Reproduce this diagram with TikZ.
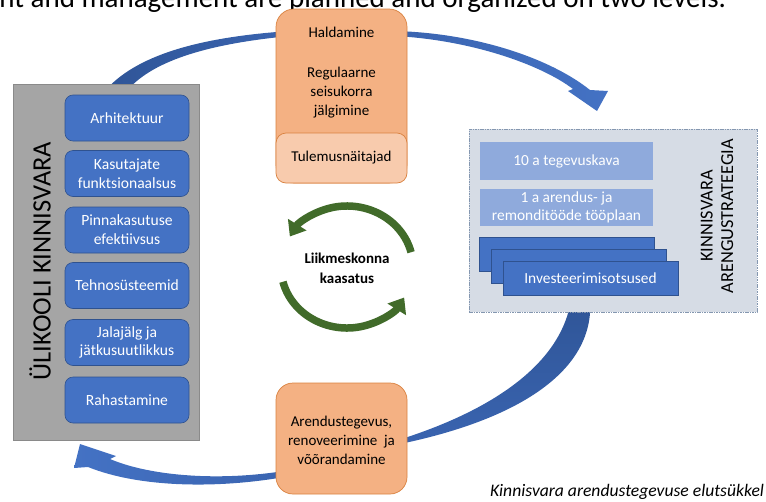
\documentclass[tikz,border=0pt]{standalone}
\usepackage{fontspec}
\setmainfont{Carlito}
\usetikzlibrary{arrows.meta}
\definecolor{bbox}{HTML}{4472C4}
\definecolor{bboxd}{HTML}{2F528F}
\definecolor{lbox}{HTML}{8FAADC}
\definecolor{gpanel}{HTML}{A5A5A5}
\definecolor{gpaneld}{HTML}{8A8A8A}
\definecolor{orfill}{HTML}{F4B183}
\definecolor{orlight}{HTML}{F8CBAD}
\definecolor{ordraw}{HTML}{D9813F}
\definecolor{rpanel}{HTML}{D6DCE5}
\definecolor{rpaneld}{HTML}{8497B0}
\definecolor{arrdark}{HTML}{2F5597}
\definecolor{arrmid}{HTML}{3A64B0}
\definecolor{arrlight}{HTML}{4472C4}
\definecolor{grn}{HTML}{416B2A}
\begin{document}
\begin{tikzpicture}[x=1pt,y=-1pt,
  every node/.style={inner sep=0pt, outer sep=0pt},
  txt/.style={align=center, font=\fontsize{15}{19}\selectfont},
  bluebox/.style={draw=bboxd, line width=0.6pt, fill=bbox, rounded corners=8pt,
    minimum width=124pt, minimum height=46pt, text=white, align=center,
    font=\fontsize{15.6}{18.8}\selectfont},
  lightbox/.style={fill=lbox, minimum width=173pt, text=white, align=center,
    font=\fontsize{15.4}{18}\selectfont},
  stackbox/.style={draw=bboxd, line width=0.6pt, fill=bbox, minimum width=175pt,
    minimum height=34pt, text=white, font=\fontsize{15.4}{18}\selectfont},
  orbox/.style={draw=ordraw, line width=0.7pt, fill=orfill, minimum width=131pt},
  garrow/.style={draw=grn, line width=7.5pt, -{Triangle[width=21pt,length=14pt]}}
]
\useasboundingbox (0,0) rectangle (766,501);

% cut-off heading
\node[anchor=base east, font=\fontsize{29}{34}\selectfont] (heading) at (726,7)
  {nt and management are planned and organized on two levels.};

% big blue cycle arrows
\shade[left color=arrdark, right color=arrmid]
  (104,92) .. controls (135,55) and (200,37) .. (290,31) -- (290,36)
  .. controls (205,44) and (150,62) .. (126,92) -- cycle;
\shade[left color=arrmid, right color=arrlight]
  (395,31) .. controls (475,33) and (550,58) .. (590,90) -- (608,91) -- (597,111)
  -- (568,91) -- (573,89) .. controls (540,64) and (470,40) .. (395,36) -- cycle;
\shade[top color=arrdark, bottom color=arrmid]
  (571,300) .. controls (560,370) and (480,415) .. (395,441) -- (395,445)
  .. controls (520,420) and (595,370) .. (590,300) -- cycle;
\shade[left color=arrlight, right color=arrmid]
  (290,470) .. controls (220,482) and (150,476) .. (110,459) -- (116,456) -- (80,444)
  -- (74,468) -- (88,467) .. controls (140,488) and (220,489) .. (290,476) -- cycle;

% left panel
\node[draw=gpaneld, line width=0.6pt, fill=gpanel, minimum width=186pt, minimum height=356pt] (panel) at (106,262) {};
\node[rotate=90, font=\fontsize{26.5}{30}\selectfont] (paneltitle) at (40,261) {ÜLIKOOLI KINNISVARA};
\node[bluebox] (b1) at (127,118) {Arhitektuur};
\node[bluebox] (b2) at (127,173.5) {Kasutajate\\funktsionaalsus};
\node[bluebox] (b3) at (127,230) {Pinnakasutuse\\efektiivsus};
\node[bluebox] (b4) at (127,285.5) {Tehnosüsteemid};
\node[bluebox] (b5) at (127,342.5) {Jalajälg ja\\jätkusuutlikkus};
\node[bluebox] (b6) at (127,400) {Rahastamine};

% top orange box
\node[orbox, rounded corners=18pt, minimum height=174pt] (topbox) at (341.5,96) {};
\node[orbox, fill=orlight, rounded corners=10pt, minimum height=50pt] (tulem) at (341.5,158) {};
\node[txt] (haldtxt) at (341.5,73) {Haldamine\\[21pt]Regulaarne\\seisukorra\\jälgimine};
\node[txt] (tulemtxt) at (341.5,157.5) {Tulemusnäitajad};

% right panel
\node[draw=rpaneld, dash pattern=on 1.6pt off 0.8pt, line width=0.7pt, fill=rpanel,
  minimum width=288pt, minimum height=183pt] (rpanel) at (613,220.5) {};
\node[lightbox, minimum height=38pt] (plan10) at (566.5,161) {10 a tegevuskava};
\node[lightbox, minimum height=37pt] (plan1) at (566.5,207.5) {1 a arendus- ja\\remonditööde tööplaan};
\node[stackbox] (inv1) at (567,254) {};
\node[stackbox] (inv2) at (578.5,266.5) {};
\node[stackbox] (inv3) at (590.5,278.5) {Investeerimisotsused};
\node[rotate=90, align=center, font=\fontsize{18.3}{20.5}\selectfont] (rtitle) at (717,216)
  {KINNISVARA\\ARENGUSTRATEEGIA};

% bottom orange box
\node[orbox, rounded corners=17pt, minimum height=111pt] (botbox) at (341.5,438.5) {};
\node[txt] (bottxt) at (341.5,440) {Arendustegevus,\\renoveerimine~ ja\\võõrandamine};

% green circular arrows
\coordinate (gc) at (347,267);
\draw[garrow] ([shift={(-14:66 and 61)}]gc) arc[start angle=-14, end angle=-150, x radius=66, y radius=61];
\draw[garrow] ([shift={(166:66 and 61)}]gc) arc[start angle=166, end angle=30, x radius=66, y radius=61];
\node[align=center, font=\bfseries\fontsize{15}{20}\selectfont] (gtext) at (347,268) {Liikmeskonna\\kaasatus};

% caption
\node[anchor=base east, font=\itshape\fontsize{17.6}{20}\selectfont] (caption) at (764,496)
  {Kinnisvara arendustegevuse elutsükkel};
\end{tikzpicture}
\end{document}
